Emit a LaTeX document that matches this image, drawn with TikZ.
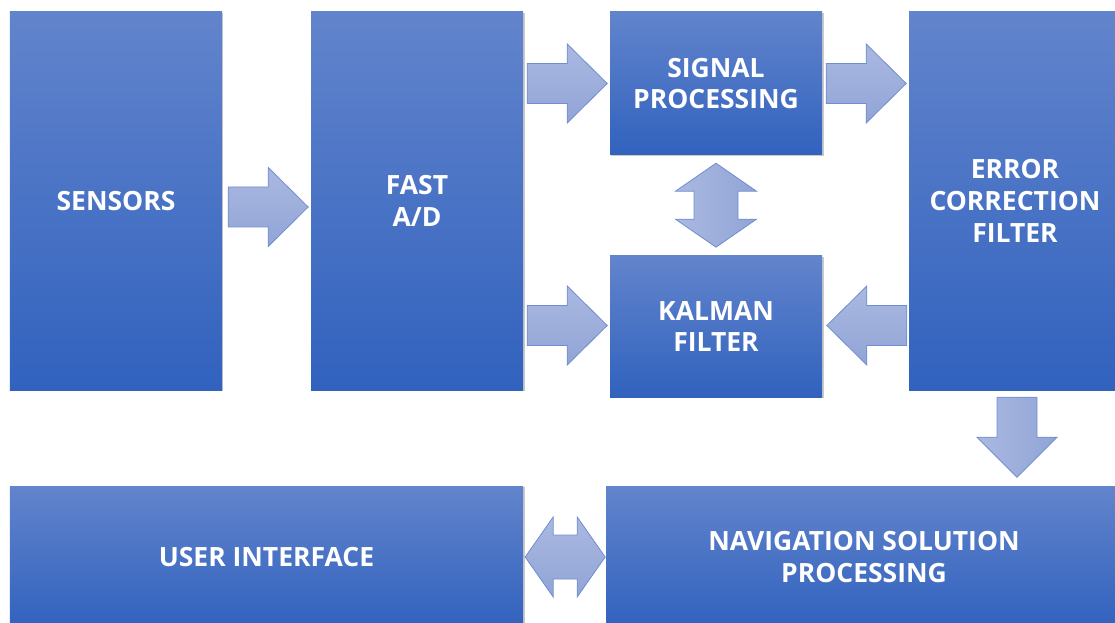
\documentclass[tikz,border=0pt]{standalone}
\usepackage{fontspec}
\setmainfont{Open Sans}
\usetikzlibrary{calc,shadows}
\definecolor{boxtop}{RGB}{98,132,204}
\definecolor{boxbot}{RGB}{49,98,190}
\definecolor{arrA}{RGB}{170,185,225}
\definecolor{arrB}{RGB}{145,164,214}
\definecolor{arrline}{RGB}{112,141,208}
\tikzset{
 blk/.style={rectangle, inner sep=0pt, top color=boxtop, bottom color=boxbot, text=white,
   font=\fontsize{26.6}{32}\selectfont\bfseries, align=center,
   drop shadow={shadow xshift=1.5pt, shadow yshift=-1.5pt, opacity=0.35, fill=black!60}},
 harr/.style={draw=arrline, line width=0.8pt, top color=arrA, bottom color=arrB},
 varr/.style={draw=arrline, line width=0.8pt, left color=arrA, right color=arrB},
}
\newcommand\blkH[2]{%
 \path[harr] #1 ++(0,-20) -- ++({40*#2},0) -- ++(0,-19.5) -- ++({40*#2},39.5) -- ++({-40*#2},39.5) -- ++(0,-19.5) -- ++({-40*#2},0) -- cycle;}
\newcommand\blkV[1]{%
 \path[varr] #1 ++(-20,0) -- ++(0,40) -- ++(-20,0) -- ++(40,40) -- ++(40,-40) -- ++(-20,0) -- ++(0,-40) -- cycle;}
\begin{document}
\begin{tikzpicture}[x=1bp,y=-1bp]
\useasboundingbox (0,0) rectangle (1115,623);
\node[blk, minimum width=212bp, minimum height=378bp] (sensors) at (116,201) {SENSORS};
\node[blk, minimum width=212bp, minimum height=378bp] (fad) at (417,201) {FAST\\A/D};
\node[blk, minimum width=212bp, minimum height=143bp] (sig) at (716,83.5) {SIGNAL\\PROCESSING};
\node[blk, minimum width=212bp, minimum height=141bp] (kal) at (716,326.5) {KALMAN\\FILTER};
\node[blk, minimum width=212bp, minimum height=378bp] (err) at (1015,201) {ERROR\\CORRECTION\\FILTER};
\node[blk, minimum width=513bp, minimum height=142bp] (ui) at (266.5,557) {USER INTERFACE};
\node[blk, minimum width=516bp, minimum height=142bp] (nav) at (864,557) {NAVIGATION SOLUTION\\PROCESSING};
% connectors
\blkH{($(sensors.east)+(6,6)$)}{1}
\blkH{($(fad.east |- sig.center)+(4,0)$)}{1}
\blkH{($(sig.east)+(4,0)$)}{1}
\blkH{($(fad.east |- kal.center)+(4,-1)$)}{1}
\blkH{($(err.west |- kal.center)+(-2,-1)$)}{-1}
\blkV{($(err.south)+(2,7)$)}
\path[varr] ($(sig.south)+(0,8)$) -- ++(40.5,28) -- ++(-18.5,0) -- ++(0,28) -- ++(18.5,0) -- ++(-40.5,28) -- ++(-40.5,-28) -- ++(18.5,0) -- ++(0,-28) -- ++(-18.5,0) -- cycle;
\path[harr] ($(ui.east)+(2,0)$) -- ++(28,-40) -- ++(0,18) -- ++(24,0) -- ++(0,-18) -- ++(28,40) -- ++(-28,40) -- ++(0,-18) -- ++(-24,0) -- ++(0,18) -- cycle;
\end{tikzpicture}
\end{document}
